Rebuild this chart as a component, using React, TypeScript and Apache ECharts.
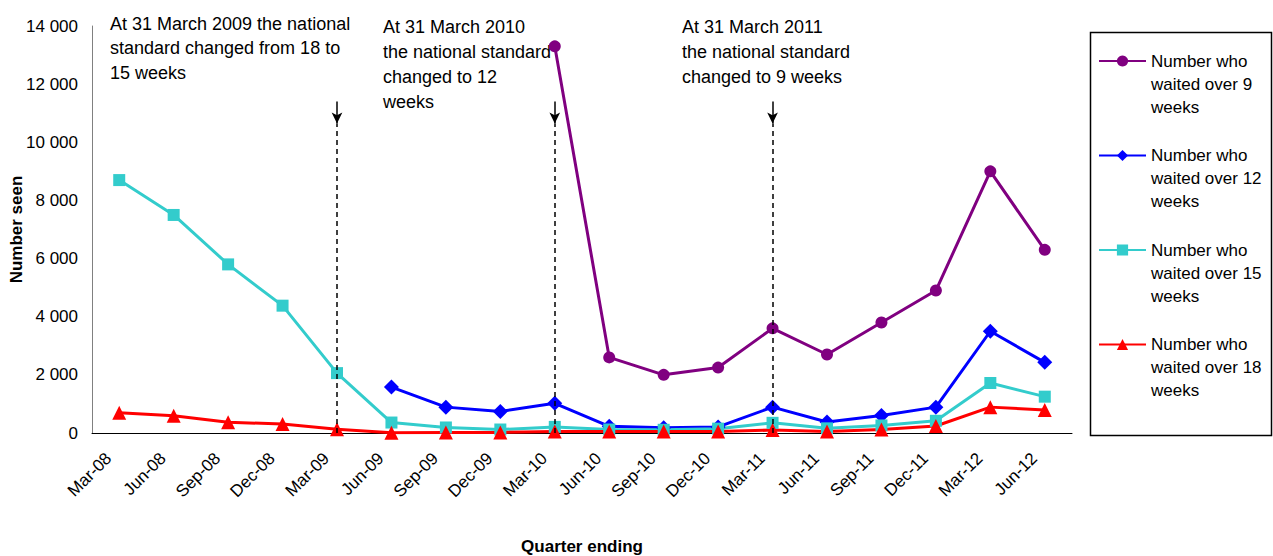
import React, { useEffect, useRef } from 'react';
import * as echarts from 'echarts';

const categories = ['Mar-08', 'Jun-08', 'Sep-08', 'Dec-08', 'Mar-09', 'Jun-09', 'Sep-09', 'Dec-09', 'Mar-10', 'Jun-10', 'Sep-10', 'Dec-10', 'Mar-11', 'Jun-11', 'Sep-11', 'Dec-11', 'Mar-12', 'Jun-12'];
const over9 = [null, null, null, null, null, null, null, null, 13300, 2600, 2000, 2250, 3600, 2700, 3800, 4900, 9000, 6300];
const over12 = [null, null, null, null, null, 1580, 890, 740, 1020, 230, 180, 210, 890, 380, 600, 890, 3500, 2430];
const over15 = [8700, 7500, 5800, 4380, 2060, 360, 190, 120, 210, 120, 110, 150, 350, 160, 260, 420, 1720, 1250];
const over18 = [700, 590, 370, 310, 130, 10, 15, 20, 50, 50, 50, 50, 100, 50, 120, 240, 890, 790];

const seriesNames = ['Number who waited over 9 weeks', 'Number who waited over 12 weeks', 'Number who waited over 15 weeks', 'Number who waited over 18 weeks'];
const legendLabels = ['Number who\nwaited over 9\nweeks', 'Number who\nwaited over 12\nweeks', 'Number who\nwaited over 15\nweeks', 'Number who\nwaited over 18\nweeks'];
const yTicks = { min: 0, max: 14000, interval: 2000 };
const changeMarks = ['Mar-09', 'Mar-10', 'Mar-11'];
const arrowTop = 11400;
const arrowTip = 10650;
const notes = [
  'At 31 March 2009 the national\nstandard changed from 18 to\n15 weeks',
  'At 31 March 2010\nthe national standard\nchanged to 12\nweeks',
  'At 31 March 2011\nthe national standard\nchanged to 9 weeks',
];

const FONT = '"Liberation Sans", Arial, sans-serif';

export default function App() {
  const ref = useRef<HTMLDivElement>(null);
  useEffect(() => {
    if (!ref.current) return;
    const chart = echarts.init(ref.current, null, { renderer: 'svg' });
    const fmt = (v: number) => String(v).replace(/\B(?=(\d{3})+(?!\d))/g, ' ');
    const mk = (name: string, data: any[], color: string, symbol: string, size: number, extra: any = {}) => ({
      name,
      type: 'line',
      data,
      connectNulls: false,
      symbol,
      symbolSize: size,
      showAllSymbol: true,
      lineStyle: { color, width: 3 },
      itemStyle: { color },
      ...extra,
    });
    const markLine = {
      silent: true,
      symbol: ['none', 'none'],
      label: { show: false },
      lineStyle: { color: '#000', width: 1.5, type: [5, 4] },
      emphasis: { disabled: true },
      data: changeMarks.flatMap((c) => [
        [
          { coord: [c, 0], symbol: 'none' },
          { coord: [c, arrowTip], symbol: 'none' },
        ],
        [
          { coord: [c, arrowTop], symbol: 'none', lineStyle: { type: 'solid', color: '#000', width: 1.5 } },
          { coord: [c, arrowTip], symbol: 'arrow', symbolSize: [8, 11] },
        ],
      ]),
    };
    chart.setOption({
      animation: false,
      textStyle: { fontFamily: FONT },
      grid: { left: 92, right: 201, top: 26, bottom: 123, outerBoundsMode: 'none', containLabel: false },
      xAxis: {
        type: 'category',
        data: categories,
        boundaryGap: true,
        name: 'Quarter ending',
        nameLocation: 'middle',
        nameGap: 105,
        nameMoveOverlap: false,
        nameTextStyle: { fontFamily: FONT, fontSize: 17, fontWeight: 'bold', color: '#000' },
        axisLine: { lineStyle: { color: '#000', width: 1 } },
        axisTick: { show: false },
        axisLabel: { interval: 0, rotate: 45, fontSize: 17, color: '#000', fontFamily: FONT, margin: 12, padding: [0, 15, 0, 0] },
        splitLine: { show: false },
      },
      yAxis: {
        type: 'value',
        ...yTicks,
        name: 'Number seen',
        nameLocation: 'middle',
        nameRotate: 90,
        nameGap: 67,
        nameMoveOverlap: false,
        nameTextStyle: { fontFamily: FONT, fontSize: 17, fontWeight: 'bold', color: '#000' },
        axisLine: { show: true, lineStyle: { color: '#808080', width: 1 } },
        axisTick: { show: false },
        splitLine: { show: false },
        axisLabel: { fontSize: 17, color: '#000', fontFamily: FONT, margin: 14, formatter: fmt },
      },
      legend: {
        orient: 'vertical',
        left: 1098,
        top: 3.5,
        padding: 0,
        itemGap: -20.5,
        itemWidth: 47,
        itemHeight: 14,
        data: seriesNames,
        formatter: (n: string) => '\n\n' + legendLabels[seriesNames.indexOf(n)],
        textStyle: { fontFamily: FONT, fontSize: 17, color: '#000', lineHeight: 23 },
      },
      series: [
        mk(seriesNames[0], over9, '#800080', 'circle', 12),
        mk(seriesNames[1], over12, '#0000FF', 'diamond', 15),
        mk(seriesNames[2], over15, '#33CCCC', 'rect', 12),
        mk(seriesNames[3], over18, '#FF0000', 'triangle', 14, { markLine, z: 3 }),
      ],
      graphic: [
        { type: 'rect', shape: { x: 1090.5, y: 32.5, width: 181, height: 403 }, style: { fill: 'none', stroke: '#000', lineWidth: 1.5 }, silent: true },
        { type: 'text', x: 110, y: 11.5, style: { text: notes[0], font: `18px ${FONT}`, lineHeight: 24.5, fill: '#000' }, silent: true },
        { type: 'text', x: 383, y: 14.5, style: { text: notes[1], font: `18px ${FONT}`, lineHeight: 25, fill: '#000' }, silent: true },
        { type: 'text', x: 682, y: 14.5, style: { text: notes[2], font: `18px ${FONT}`, lineHeight: 25, fill: '#000' }, silent: true },
      ],
    });
    return () => chart.dispose();
  }, []);
  return <div ref={ref} style={{ position: 'absolute', left: 0, top: 0, width: 1273, height: 556 }} />;
}
